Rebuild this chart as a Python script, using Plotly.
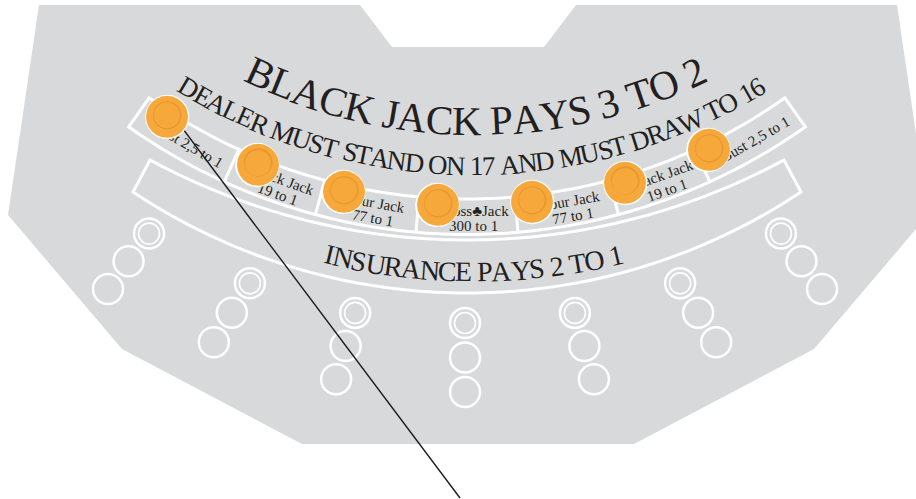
import math
import plotly.graph_objects as go

# ---------------- data ----------------
title_text = "BLACK JACK PAYS 3 TO 2"
rule_text = "DEALER MUST STAND ON 17 AND MUST DRAW TO 16"
insurance_text = "INSURANCE PAYS 2 TO 1"
box_line1 = ["Bust 2,5 to 1", "Black Jack", "Four Jack", "Cross\u2663Jack", "Four Jack", "Black Jack", "Bust 2,5 to 1"]
box_line2 = ["", "19 to 1", "77 to 1", "300 to 1", "77 to 1", "19 to 1", ""]
seats = 7
spots_per_seat = 3

# ---------------- geometry / style ----------------
W, H = 916, 499
TABLE = "#d8d9db"
INK = "#231f20"
ORANGE = "#f6a83b"
ORANGE_D = "#e8962f"
SERIF = "Liberation Serif"

WID = {" ": .25, "A": .722, "B": .667, "C": .667, "D": .722, "E": .611, "I": .333, "J": .389,
       "K": .722, "L": .611, "M": .889, "N": .722, "O": .722, "P": .556, "R": .667, "S": .556,
       "T": .611, "U": .722, "W": .944, "Y": .722}


def pt(cx, cy, r, a):
    t = math.radians(a)
    return cx + r * math.sin(t), cy + r * math.cos(t)


def arc(cx, cy, r, a0, a1, n=90):
    return [pt(cx, cy, r, a0 + (a1 - a0) * i / n) for i in range(n + 1)]


def path_of(points, close=False):
    s = "M " + " L ".join(f"{x:.2f},{y:.2f}" for x, y in points)
    return s + (" Z" if close else "")


shapes = []
annotations = []

# table outline (symmetric about x=468)
half = [(39, 5), (360, 5), (392, 47), (468, 47)]
lower = [(468, 444), (302, 444), (122, 349), (8, 215)]
outline = half + [(936 - x, y) for x, y in reversed(half[:-1])] + \
    [(936 - 8, 215), (936 - 122, 349), (936 - 302, 444)] + lower
shapes.append(dict(type="path", path=path_of(outline, True), fillcolor=TABLE,
                   line=dict(width=0), layer="below"))

WL = dict(color="white", width=3)
# payout boxes band
PC = (467, -351)
R_TOP, R_BOT = 550, 585.5
edges = [-35.3, -24.5, -15, -5, 5, 15, 24.5, 35.3]
band = arc(*PC, R_TOP, edges[0], edges[-1]) + arc(*PC, R_BOT, edges[-1], edges[0])
shapes.append(dict(type="path", path=path_of(band, True), line=WL))
for a in edges[1:-1]:
    shapes.append(dict(type="path", path=path_of([pt(*PC, R_TOP, a), pt(*PC, R_BOT, a)]), line=WL))

# insurance band
ins = arc(467, -428, 668, -28.33, 28.33) + arc(467, -309.7, 602.7, 33.65, -33.65)
shapes.append(dict(type="path", path=path_of(ins, True), line=WL))

# betting spots
seat_angles = [-31.6, -20.9, -10.5, 0, 10.5, 20.9, 31.6]
col_tilt = [-36.5, -31.5, -16, 0, 16, 31.5, 36.5]
for s in range(seats):
    x0, y0 = pt(465, -280, 603, seat_angles[s])
    for k in range(spots_per_seat):
        x, y = pt(x0, y0, 34.5 * k, col_tilt[s])
        shapes.append(dict(type="circle", x0=x - 15, x1=x + 15, y0=y - 15, y1=y + 15,
                           line=dict(color="white", width=2.5)))
        if k == 0:
            shapes.append(dict(type="circle", x0=x - 10.5, x1=x + 10.5, y0=y - 10.5, y1=y + 10.5,
                               line=dict(color="white", width=1.6)))

# box texts (centred in each box, nudged a little along the arc)
for i in range(7):
    a = (edges[i] + edges[i + 1]) / 2
    cx, cy = pt(*PC, 569, a)
    t = math.radians(a)
    cx, cy = cx + 6 * math.cos(t), cy - 6 * math.sin(t)
    ang = -a
    lines = [box_line1[i]] if not box_line2[i] else [box_line1[i], box_line2[i]]
    offs = [0] if len(lines) == 1 else [-7.5, 7.5]
    for txt, o in zip(lines, offs):
        x, y = pt(cx, cy, o, a)
        annotations.append(dict(x=x, y=y, text=txt, showarrow=False, textangle=ang,
                                xanchor="center", yanchor="middle",
                                font=dict(family=SERIF, size=15, color=INK)))

# leader line
annotations.append(dict(x=460, y=498, ax=174, ay=117, axref="x", ayref="y", text="",
                        showarrow=True, arrowhead=0, arrowwidth=1.4, arrowcolor="#1e1e1e",
                        standoff=0, startstandoff=0))

# chips (one per payout box, just past the box's left edge)
for i in range(7):
    x, y = pt(*PC, 552, edges[i] + 2.4 - 0.15 * i)
    for size, col in [(58, "white"), (55, ORANGE), (37, ORANGE_D), (34, ORANGE)]:
        annotations.append(dict(x=x, y=y, text="\u25cf", showarrow=False, xanchor="center",
                                yanchor="middle", font=dict(family="DejaVu Sans", size=size, color=col)))


# curved texts
def arc_text(text, cx, cy, rho, em_px, size):
    ws = [WID.get(c, .5) for c in text]
    total = sum(ws)
    cum = 0
    for c, w in zip(text, ws):
        s = (cum + w / 2 - total / 2) * em_px
        cum += w
        if c == " ":
            continue
        a = math.degrees(s / rho)
        x, y = pt(cx, cy, rho, a)
        annotations.append(dict(x=x, y=y, text=c, showarrow=False, textangle=-a,
                                xanchor="center", yanchor="middle",
                                font=dict(family=SERIF, size=size, color=INK)))


arc_text(title_text, 476, -392, 513, 39.2, 41)
arc_text(rule_text, 472, -386, 552, 24.4, 27)
arc_text(insurance_text, 474, -343, 615, 25.8, 28)

fig = go.Figure()
fig.update_layout(
    width=W, height=H, margin=dict(l=0, r=0, t=0, b=0),
    paper_bgcolor="white", plot_bgcolor="white",
    xaxis=dict(range=[0, W], visible=False, fixedrange=True),
    yaxis=dict(range=[H, 0], visible=False, fixedrange=True),
    shapes=shapes, annotations=annotations, showlegend=False,
)
fig.write_html("out.html", config={"displayModeBar": False},
               post_script="document.body.style.margin='0';")
